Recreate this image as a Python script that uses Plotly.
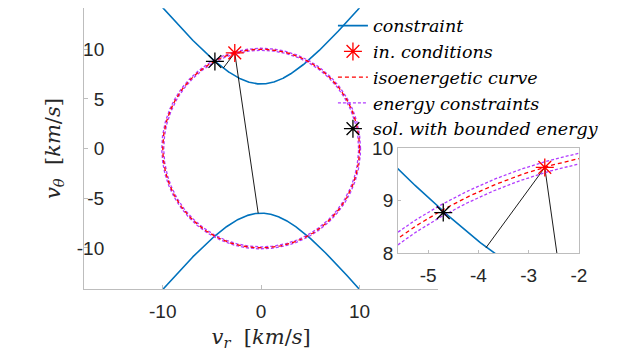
import numpy as np
import plotly.graph_objects as go

# --- chart values ---------------------------------------------------------
# constraint: v_theta^2 = vt0^2 + k * v_r^2  (two branches)
vt0 = 6.5
k_hyp = 1.59
vr_span = [-10.0, 10.0]
# isoenergetic curve radius and energy bound radii (km/s)
r_iso = 10.0
r_bounds = [9.9, 10.1]
# initial conditions and solution with bounded energy (v_r, v_theta)
init_cond = [-2.68, 9.63]
solution = [-4.70, 8.77]
# segments from the initial conditions to the constraint
seg_short = [[-2.68, -3.85], [9.63, 8.10]]
seg_long = [[-2.68, -0.30], [9.63, -6.51]]

x_ticks = [-10, 0, 10]
y_ticks = [-10, -5, 0, 5, 10]
inset_x_ticks = [-5, -4, -3, -2]
inset_y_ticks = [8, 9, 10]

BLUE = "#0072BD"
RED = "#FF0000"
PURPLE = "#B23CFF"
AX = "#BDBDBD"
TXT = "#262626"

vr = np.linspace(vr_span[0], vr_span[1], 801)
vt_up = np.sqrt(vt0 ** 2 + k_hyp * vr ** 2)
th = np.linspace(0, 2 * np.pi, 1201)

fig = go.Figure()


def add_all(xa, ya, legend):
    # constraint branches
    fig.add_trace(go.Scatter(x=np.concatenate([vr, [None], vr]),
                             y=np.concatenate([vt_up, [None], -vt_up]),
                             mode="lines", line=dict(color=BLUE, width=1.6),
                             name="<i>constraint</i>", showlegend=legend,
                             xaxis=xa, yaxis=ya, legendrank=1))
    # segments
    fig.add_trace(go.Scatter(x=seg_short[0] + [None] + seg_long[0],
                             y=seg_short[1] + [None] + seg_long[1],
                             mode="lines", line=dict(color="#000000", width=0.9),
                             showlegend=False, xaxis=xa, yaxis=ya))
    # energy bounds
    bx, by = [], []
    for r in r_bounds:
        bx += list(r * np.cos(th)) + [None]
        by += list(r * np.sin(th)) + [None]
    fig.add_trace(go.Scatter(x=bx, y=by, mode="lines",
                             line=dict(color=PURPLE, width=1.3, dash="3px,2px"),
                             name="<i>energy constraints</i>", showlegend=legend,
                             xaxis=xa, yaxis=ya, legendrank=4))
    # isoenergetic curve
    fig.add_trace(go.Scatter(x=r_iso * np.cos(th), y=r_iso * np.sin(th),
                             mode="lines",
                             line=dict(color=RED, width=1.3, dash="4px,3px"),
                             name="<i>isoenergetic curve</i>", showlegend=legend,
                             xaxis=xa, yaxis=ya, legendrank=3))
    fig.add_trace(go.Scatter(x=[init_cond[0]], y=[init_cond[1]], mode="markers",
                             marker=dict(symbol="asterisk-open", size=15,
                                         color=RED,
                                         line=dict(color=RED, width=1.3)),
                             name="<i>in. conditions</i>", showlegend=legend,
                             xaxis=xa, yaxis=ya, legendrank=2))
    fig.add_trace(go.Scatter(x=[solution[0]], y=[solution[1]], mode="markers",
                             marker=dict(symbol="asterisk-open", size=15,
                                         color="#000000",
                                         line=dict(color="#000000", width=1.3)),
                             name="<i>sol. with bounded energy</i>",
                             showlegend=legend,
                             xaxis=xa, yaxis=ya, legendrank=5))


add_all("x", "y", True)
add_all("x2", "y2", False)

tick_font = dict(family="Liberation Sans, Arial", size=19, color=TXT)
label_font = dict(family="DejaVu Serif", size=21, color=TXT)


def labels(vals):
    return [str(v) for v in vals]


fig.update_layout(
    width=627, height=354,
    margin=dict(l=0, r=0, t=0, b=0, autoexpand=False),
    paper_bgcolor="white", plot_bgcolor="white",
    xaxis=dict(domain=[0.134, 0.699], range=[-18, 18], tickvals=x_ticks,
               ticktext=labels(x_ticks), ticklabelstandoff=5,
               ticks="inside", ticklen=4, tickcolor=AX, showline=True,
               linecolor=AX, linewidth=1, showgrid=False, zeroline=False,
               tickfont=tick_font, automargin=False,
               title=dict(text="<i>v<sub>r</sub></i>  [<i>km</i>/<i>s</i>]",
                          font=label_font, standoff=8)),
    yaxis=dict(domain=[0.1836, 0.977], range=[-14.14, 14.14], tickvals=y_ticks,
               ticktext=labels(y_ticks), ticklabelstandoff=-25,
               ticks="inside", ticklen=4, tickcolor=AX, showline=True,
               linecolor=AX, linewidth=1, showgrid=False, zeroline=False,
               tickfont=tick_font, automargin=False,
               title=dict(text="<i>v<sub>θ</sub></i>  [<i>km</i>/<i>s</i>]",
                          font=label_font, standoff=10)),
    xaxis2=dict(domain=[0.6348, 0.9234], range=[-5.6, -2], tickvals=inset_x_ticks,
                ticktext=labels(inset_x_ticks), ticklabelstandoff=5,
                anchor="y2", ticks="inside", ticklen=3, tickcolor=AX,
                showline=True, mirror=True, linecolor=AX, linewidth=1,
                showgrid=False, zeroline=False, tickfont=tick_font,
                automargin=False),
    yaxis2=dict(domain=[0.2853, 0.5819], range=[8, 10], tickvals=inset_y_ticks,
                ticktext=labels(inset_y_ticks),
                anchor="x2", ticks="inside", ticklen=3, tickcolor=AX,
                showline=True, mirror=True, linecolor=AX, linewidth=1,
                showgrid=False, zeroline=False, tickfont=tick_font,
                automargin=False),
    legend=dict(x=0.531, y=0.978, xanchor="left", yanchor="top",
                bgcolor="rgba(0,0,0,0)", itemwidth=30, tracegroupgap=0,
                font=dict(family="DejaVu Serif", size=17.5, color="#000000"),
                itemsizing="trace"),
    showlegend=True,
)

fig.write_html("out.html")
